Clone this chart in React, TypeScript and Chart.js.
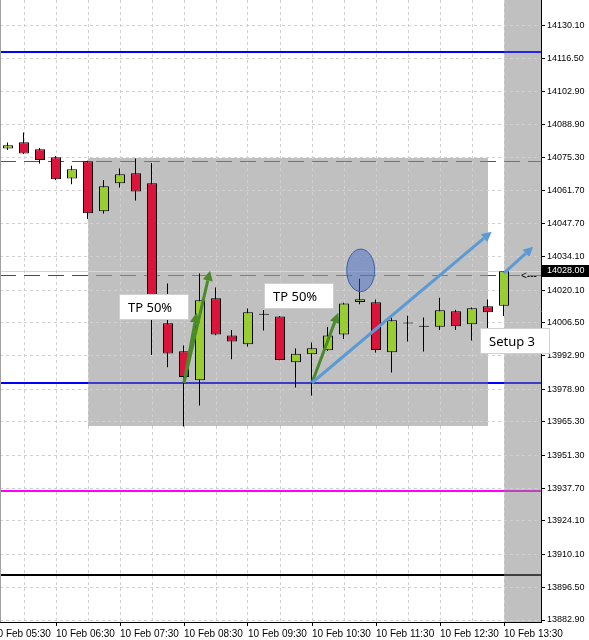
import React, { useEffect, useRef } from 'react';
import { Chart, registerables } from 'chart.js';

Chart.register(...registerables);

// ---- candle data (15-minute bars, 10 Feb) ----
const barTimes = [
  '05:45', '06:00', '06:15', '06:30', '06:45', '07:00', '07:15', '07:30',
  '07:45', '08:00', '08:15', '08:30', '08:45', '09:00', '09:15', '09:30',
  '09:45', '10:00', '10:15', '10:30', '10:45', '11:00', '11:15', '11:30',
  '11:45', '12:00', '12:15', '12:30', '12:45', '13:00', '13:15', '13:30',
];
const openPrices = [
  14079.0, 14081.6, 14078.7, 14075.4, 14066.6, 14073.7, 14052.9, 14064.6,
  14068.7, 14064.6, 14006.3, 13994.7, 13982.6, 14016.7, 14001.3, 13997.6,
  14009.9, 14009.2, 13990.1, 13993.4, 13995.1, 14001.7, 14015.2, 14015.1,
  13994.3, 14006.2, 14004.9, 14004.9, 14011.3, 14005.9, 14013.4, 14013.6,
];
const highPrices = [
  14081.6, 14085.8, 14079.3, 14075.9, 14072.0, 14074.0, 14065.9, 14070.8,
  14075.0, 14073.1, 14023.0, 13997.2, 14027.1, 14021.3, 14003.5, 14012.6,
  14011.9, 14009.4, 13995.9, 13998.4, 14004.9, 14015.0, 14025.0, 14016.3,
  14008.8, 14009.6, 14008.8, 14017.1, 14012.1, 14013.0, 14016.3, 14028.0,
];
const lowPrices = [
  14078.4, 14076.8, 14072.7, 14065.8, 14064.1, 14049.6, 14051.9, 14062.7,
  14057.3, 13993.1, 13987.9, 13963.3, 13972.0, 14001.2, 13991.3, 13996.6,
  14003.2, 13990.9, 13979.5, 13976.2, 13994.8, 13999.7, 14014.1, 13994.1,
  13985.8, 13998.7, 13994.5, 14003.4, 14003.5, 13999.1, 14003.9, 14009.4,
];
const closePrices = [
  14080.4, 14077.0, 14074.3, 14066.2, 14070.4, 14052.1, 14063.3, 14068.3,
  14061.2, 14011.5, 13993.8, 13984.0, 14015.9, 14001.7, 13998.8, 14010.9,
  14009.9, 13991.1, 13993.7, 13995.9, 14001.2, 14014.6, 14016.3, 13995.2,
  14007.6, 14006.2, 14004.9, 14011.7, 14005.1, 14012.6, 14010.9, 14028.0,
];

// ---- axes ----
const yTickValues = [
  14130.1, 14116.5, 14102.9, 14088.9, 14075.3, 14061.7, 14047.7, 14034.1,
  14020.1, 14006.5, 13992.9, 13978.9, 13965.3, 13951.3, 13937.7, 13924.1,
  13910.1, 13896.5, 13882.9,
];
const xLabelIndex = [-1, 3, 7, 11, 15, 19, 23, 27, 31];
const xTickLabels = [
  '10 Feb 05:30', '10 Feb 06:30', '10 Feb 07:30', '10 Feb 08:30', '10 Feb 09:30',
  '10 Feb 10:30', '10 Feb 11:30', '10 Feb 12:30', '10 Feb 13:30',
];
const lastPrice = 14028.0;

// ---- horizontal level lines ----
const levelPrices = [14119.2, 14074.0, 14028.0, 14026.3, 13981.6, 13936.7, 13901.6];
const levelPlainColors = ['#0000ff', '#dc143c', '#d4d4d4', '#1d6b1d', '#0000ff', '#ff00ff', '#000000'];
const levelShadedColors = ['#2626e0', '#ff4500', '#d8d8d8', '#44a544', '#3c3cc8', '#c040c0', '#404040'];
const levelWidths = [2, 1, 1, 1, 2, 2, 2];
const levelDashed = [false, true, false, true, false, false, false];

// ---- shaded zones (bar index range, price range; null = to the edge) ----
const zoneStartIdx = [5, 31];
const zoneEndIdx: (number | null)[] = [30, null];
const zoneTopPrice: (number | null)[] = [14075.1, null];
const zoneBottomPrice: (number | null)[] = [13963.7, null];

// ---- arrows ----
const arrowFromIdx = [11, 11, 19, 19, 31];
const arrowFromPrice = [13981.6, 13981.6, 13981.6, 13981.6, 14027.2];
const arrowToIdx = [12.63, 11.79, 20.64, 30.23, 32.83];
const arrowToPrice = [14028.2, 14010.7, 14010.7, 14044.4, 14038.2];
const arrowColors = ['#4a8a2a', '#4a8a2a', '#4a8a2a', '#5b9bd5', '#5b9bd5'];

// ---- ellipse (bounding box in data units) ----
const ellipseIdx = [21.17, 22.92];
const ellipsePrice = [14037.2, 14019.5];

// ---- text labels (top-left anchor in data units) ----
const noteTexts = ['TP 50%', 'TP 50%', 'Setup 3'];
const noteIdx = [6.94, 16.0, 29.5];
const notePrice = [14018.5, 14022.9, 14004.2];

const markerIdx = 32.06;
const markerPrice = 14026.3;

const GREEN = '#9acd32';
const RED = '#dc143c';

const overlayPlugin = {
  id: 'mtOverlay',
  beforeDraw(chart: any) {
    const { ctx, chartArea: a, scales } = chart;
    const x = scales.x;
    const y = scales.y;
    ctx.save();
    ctx.fillStyle = '#ffffff';
    ctx.fillRect(0, 0, chart.width, chart.height);
    ctx.fillStyle = '#c0c0c0';
    for (let k = 0; k < zoneStartIdx.length; k++) {
      const x1 = Math.round(x.getPixelForValue(zoneStartIdx[k]));
      const ze = zoneEndIdx[k];
      const x2 = ze == null ? a.right : Math.round(x.getPixelForValue(ze));
      const zt = zoneTopPrice[k];
      const zb = zoneBottomPrice[k];
      const y1 = zt == null ? a.top : Math.round(y.getPixelForValue(zt));
      const y2 = zb == null ? a.bottom : Math.round(y.getPixelForValue(zb));
      ctx.fillRect(x1, y1, x2 - x1, y2 - y1);
    }
    ctx.restore();
  },
  beforeDatasetsDraw(chart: any) {
    const { ctx, chartArea: a, scales } = chart;
    const x = scales.x;
    const y = scales.y;
    ctx.save();
    ctx.beginPath();
    ctx.rect(a.left, a.top, a.right - a.left, a.bottom - a.top);
    ctx.clip();
    for (let k = 0; k < levelPrices.length; k++) {
      const py = y.getPixelForValue(levelPrices[k]);
      const w = levelWidths[k];
      const yy = w % 2 ? Math.round(py) + 0.5 : Math.round(py);
      const dash = levelDashed[k] ? [16, 8] : [];
      const seg = (x1: number, x2: number, color: string) => {
        ctx.save();
        ctx.strokeStyle = color;
        ctx.lineWidth = w;
        ctx.setLineDash(dash);
        ctx.lineDashOffset = x1 - a.left;
        ctx.beginPath();
        ctx.moveTo(x1, yy);
        ctx.lineTo(x2, yy);
        ctx.stroke();
        ctx.restore();
      };
      seg(a.left, a.right, levelPlainColors[k]);
      for (let z = 0; z < zoneStartIdx.length; z++) {
        const zt = zoneTopPrice[z];
        const zb = zoneBottomPrice[z];
        const inside = (zt == null || levelPrices[k] <= zt) && (zb == null || levelPrices[k] >= zb);
        if (!inside) continue;
        const x1 = Math.round(x.getPixelForValue(zoneStartIdx[z]));
        const ze = zoneEndIdx[z];
        const x2 = ze == null ? a.right : Math.round(x.getPixelForValue(ze));
        seg(x1, x2, levelShadedColors[k]);
      }
    }
    ctx.restore();
  },
  afterDraw(chart: any) {
    const { ctx, chartArea: a, scales } = chart;
    const x = scales.x;
    const y = scales.y;

    // left border
    ctx.save();
    ctx.strokeStyle = '#a0a0a0';
    ctx.lineWidth = 1;
    ctx.beginPath();
    ctx.moveTo(a.left + 0.5, a.top);
    ctx.lineTo(a.left + 0.5, a.bottom);
    ctx.stroke();
    ctx.restore();

    // ellipse
    ctx.save();
    const ex1 = x.getPixelForValue(ellipseIdx[0]);
    const ex2 = x.getPixelForValue(ellipseIdx[1]);
    const ey1 = y.getPixelForValue(ellipsePrice[0]);
    const ey2 = y.getPixelForValue(ellipsePrice[1]);
    ctx.beginPath();
    ctx.ellipse((ex1 + ex2) / 2, (ey1 + ey2) / 2, Math.abs(ex2 - ex1) / 2, Math.abs(ey2 - ey1) / 2, 0, 0, Math.PI * 2);
    ctx.fillStyle = 'rgba(60,100,200,0.45)';
    ctx.fill();
    ctx.strokeStyle = '#3a5fa8';
    ctx.lineWidth = 1;
    ctx.stroke();
    ctx.restore();

    // arrows
    for (let k = 0; k < arrowFromIdx.length; k++) {
      const x1 = x.getPixelForValue(arrowFromIdx[k]);
      const y1 = y.getPixelForValue(arrowFromPrice[k]);
      const x2 = x.getPixelForValue(arrowToIdx[k]);
      const y2 = y.getPixelForValue(arrowToPrice[k]);
      const ang = Math.atan2(y2 - y1, x2 - x1);
      const headLen = 10;
      const headHalf = 5;
      const bx = x2 - headLen * Math.cos(ang);
      const by = y2 - headLen * Math.sin(ang);
      ctx.save();
      ctx.strokeStyle = arrowColors[k];
      ctx.fillStyle = arrowColors[k];
      ctx.lineWidth = 3;
      ctx.beginPath();
      ctx.moveTo(x1, y1);
      ctx.lineTo(bx, by);
      ctx.stroke();
      ctx.beginPath();
      ctx.moveTo(x2, y2);
      ctx.lineTo(bx - headHalf * Math.sin(ang), by + headHalf * Math.cos(ang));
      ctx.lineTo(bx + headHalf * Math.sin(ang), by - headHalf * Math.cos(ang));
      ctx.closePath();
      ctx.fill();
      ctx.restore();
    }

    // text notes
    for (let k = 0; k < noteTexts.length; k++) {
      const bx = Math.round(x.getPixelForValue(noteIdx[k]));
      const by = Math.round(y.getPixelForValue(notePrice[k]));
      const bw = 70;
      const bh = 26;
      ctx.save();
      ctx.fillStyle = '#ffffff';
      ctx.fillRect(bx, by, bw, bh);
      ctx.strokeStyle = '#d0d0d0';
      ctx.lineWidth = 1;
      ctx.strokeRect(bx + 0.5, by + 0.5, bw - 1, bh - 1);
      ctx.fillStyle = '#000000';
      ctx.font = '13px "Noto Sans", "Open Sans", sans-serif';
      ctx.textBaseline = 'middle';
      ctx.textAlign = 'left';
      ctx.fillText(noteTexts[k], bx + 9, by + bh / 2 + 1);
      ctx.restore();
    }

    // "<---" marker
    ctx.save();
    ctx.fillStyle = '#000000';
    ctx.font = '10px "Liberation Sans", Arial, sans-serif';
    ctx.textBaseline = 'middle';
    ctx.fillText('<---', x.getPixelForValue(markerIdx), y.getPixelForValue(markerPrice) + 1);
    ctx.restore();

    // last price tag
    const ly = Math.round(y.getPixelForValue(lastPrice));
    ctx.save();
    ctx.fillStyle = '#000000';
    ctx.fillRect(a.right + 1, ly - 6, chart.width - a.right - 1, 12);
    ctx.fillStyle = '#ffffff';
    ctx.font = '9px "Liberation Sans", Arial, sans-serif';
    ctx.textBaseline = 'middle';
    ctx.textAlign = 'left';
    ctx.fillText(lastPrice.toFixed(2), a.right + 6, ly);
    ctx.restore();
  },
};

export default function App() {
  const ref = useRef<HTMLCanvasElement>(null);
  useEffect(() => {
    if (!ref.current) return;
    const bodyData = barTimes.map((_, i) => ({ x: i, y: [openPrices[i], closePrices[i]] }));
    const wickData = barTimes.map((_, i) => ({ x: i, y: [lowPrices[i], highPrices[i]] }));
    const chart = new Chart(ref.current, {
      type: 'bar',
      data: {
        datasets: [
          {
            label: 'body',
            data: bodyData as any,
            barThickness: 10,
            borderWidth: 1,
            borderColor: '#000000',
            borderSkipped: false,
            minBarLength: 1,
            grouped: false,
            inflateAmount: 0,
            backgroundColor: (c: any) => {
              const i = c.dataIndex;
              if (closePrices[i] > openPrices[i]) return GREEN;
              if (closePrices[i] < openPrices[i]) return RED;
              return '#000000';
            },
          } as any,
          {
            label: 'wick',
            data: wickData as any,
            barThickness: 2,
            borderWidth: { left: 1, right: 0, top: 0, bottom: 0 },
            borderColor: '#000000',
            borderSkipped: false,
            backgroundColor: 'rgba(0,0,0,0)',
            grouped: false,
            inflateAmount: 0,
          } as any,
        ],
      },
      options: {
        animation: false,
        responsive: false,
        maintainAspectRatio: false,
        devicePixelRatio: 1,
        events: [],
        layout: { padding: 0 },
        plugins: { legend: { display: false }, tooltip: { enabled: false } },
        scales: {
          x: {
            type: 'linear',
            min: -0.5,
            max: -0.5 + 541 / 16,
            offset: false,
            afterBuildTicks: (s: any) => {
              const t = [];
              for (let v = -1; v <= 31; v += 2) t.push({ value: v });
              s.ticks = t;
            },
            afterFit: (s: any) => {
              s.height = 18;
              s.paddingLeft = 0;
              s.paddingRight = 0;
            },
            ticks: {
              autoSkip: false,
              maxRotation: 0,
              minRotation: 0,
              align: 'start',
              padding: 2,
              color: '#000000',
              font: { family: '"Liberation Sans", Arial, sans-serif', size: 10 },
              callback: (v: any) => {
                const k = xLabelIndex.indexOf(Number(v));
                return k >= 0 ? xTickLabels[k] : '';
              },
            },
            grid: {
              offset: false,
              color: '#d0d0d0',
              lineWidth: 1,
              drawTicks: true,
              tickLength: 4,
              tickColor: (c: any) => (c.tick && xLabelIndex.includes(c.tick.value) ? '#000000' : 'rgba(0,0,0,0)'),
            },
            border: { display: true, color: '#000000', width: 1, dash: [3, 3] },
          } as any,
          y: {
            type: 'linear',
            position: 'right',
            min: 13882.07,
            max: 14140.81,
            beginAtZero: false,
            afterBuildTicks: (s: any) => {
              s.ticks = yTickValues.map((v) => ({ value: v }));
            },
            afterFit: (s: any) => {
              s.width = 48;
              s.paddingTop = 0;
              s.paddingBottom = 0;
            },
            ticks: {
              autoSkip: false,
              padding: 2,
              color: '#000000',
              font: { family: '"Liberation Sans", Arial, sans-serif', size: 9 },
              callback: (v: any) => Number(v).toFixed(2),
            },
            grid: {
              color: '#d0d0d0',
              lineWidth: 1,
              drawTicks: true,
              tickLength: 4,
              tickColor: '#000000',
            },
            border: { display: true, color: '#000000', width: 1, dash: [3, 3] },
          } as any,
        },
      },
      plugins: [overlayPlugin],
    });
    return () => chart.destroy();
  }, []);

  return (
    <div style={{ position: 'absolute', left: 0, top: 0, width: 589, height: 640 }}>
      <canvas ref={ref} width={589} height={640} style={{ display: 'block', width: 589, height: 640 }} />
    </div>
  );
}
